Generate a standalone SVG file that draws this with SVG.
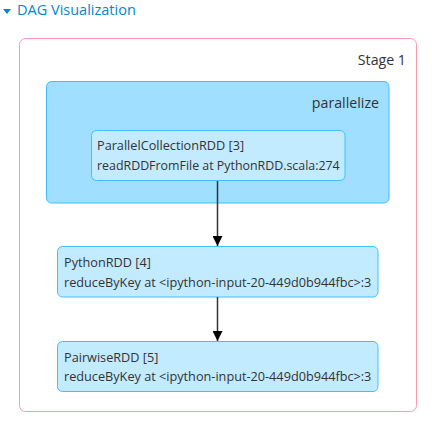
<svg xmlns="http://www.w3.org/2000/svg" width="432" height="426" viewBox="0 0 432 426">
<style>
text{font-family:"Open Sans","Noto Sans","Liberation Sans",sans-serif;fill:#333}
.title{fill:#0088cc;font-size:14.5px}
.lbl{font-size:14.2px}
.nt{font-size:12.7px}
.stage{fill:#fff;stroke:#ff99ac;stroke-width:1}
.cl{fill:#a0dfff;stroke:#3ec0ff;stroke-width:1}
.node{fill:#c3ebff;stroke:#3ec0ff;stroke-width:1}
.edge{stroke:#333;stroke-width:1.5;fill:none}
</style>
<defs>
<marker id="arr" viewBox="0 0 10 10" refX="10" refY="5" markerWidth="10" markerHeight="10" markerUnits="userSpaceOnUse" orient="auto">
<path d="M0,0 L10,5 L0,10 z" fill="#000"/>
</marker>
</defs>
<g id="header">
<path d="M3,9 L11,9 L7,14 z" fill="#0088cc"/>
<text class="title" x="17" y="15">DAG Visualization</text>
</g>
<g id="stage1">
<rect class="stage" x="19.5" y="38.5" width="397" height="373" rx="6"/>
<text class="lbl" x="406" y="65" text-anchor="end">Stage 1</text>
</g>
<g id="parallelize">
<rect class="cl" x="46.5" y="81.5" width="342.5" height="121.5" rx="5"/>
<text class="lbl" x="379" y="108" text-anchor="end">parallelize</text>
</g>
<g id="rdd3">
<rect class="node" x="91.5" y="130.5" width="253.5" height="50" rx="5"/>
<text class="nt" x="97" y="150">ParallelCollectionRDD [3]</text>
<text class="nt" x="97" y="170" style="font-size:12.4px">readRDDFromFile at PythonRDD.scala:274</text>
</g>
<g id="rdd4">
<rect class="node" x="57.5" y="246.5" width="320.5" height="50.5" rx="5"/>
<text class="nt" x="64" y="267">PythonRDD [4]</text>
<text class="nt" x="64" y="287">reduceByKey at &lt;ipython-input-20-449d0b944fbc&gt;:3</text>
</g>
<g id="rdd5">
<rect class="node" x="57.5" y="341.5" width="320.5" height="50" rx="5"/>
<text class="nt" x="64" y="362">PairwiseRDD [5]</text>
<text class="nt" x="64" y="381">reduceByKey at &lt;ipython-input-20-449d0b944fbc&gt;:3</text>
</g>
<g id="edges">
<path class="edge" d="M217.5,181 L217.5,246" marker-end="url(#arr)"/>
<path class="edge" d="M217.5,297 L217.5,341" marker-end="url(#arr)"/>
</g>
</svg>
